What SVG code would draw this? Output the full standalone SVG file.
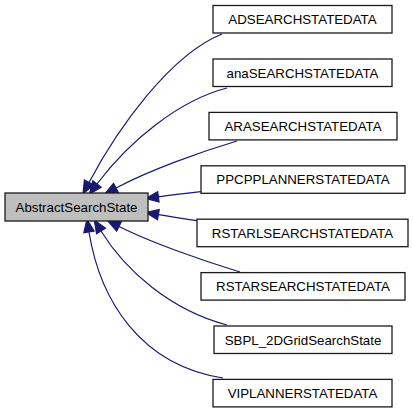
<svg xmlns="http://www.w3.org/2000/svg" width="413" height="413" viewBox="0 0 413 413">
<style>
  .box { fill: #ffffff; stroke: #1a1a1a; stroke-width: 1.3; }
  .root { fill: #bfbfbf; stroke: #1a1a1a; stroke-width: 1.3; }
  .lbl { font-family: "Liberation Sans", Arial, Helvetica, sans-serif; font-size: 13.3px; fill: #000; text-anchor: middle; }
  .edge { fill: none; stroke: #191970; stroke-width: 1.2; marker-end: url(#ah); }
</style>
<defs>
  <marker id="ah" markerUnits="userSpaceOnUse" markerWidth="14" markerHeight="12" refX="0" refY="4.5" orient="auto" viewBox="0 0 12 9" overflow="visible">
    <path d="M0,0 L11,4.5 L0,9 z" fill="#191970" stroke="#191970" stroke-width="1"/>
  </marker>
</defs>
<rect width="413" height="413" fill="#ffffff"/>
<g id="connectors">
  <path class="edge" d="M222,34 C170,55 118,128 89,182.5"/>
  <path class="edge" d="M227,88 C180,100 130,140 97,184"/>
  <path class="edge" d="M237,141 C200,152 150,170 116,188"/>
  <path class="edge" d="M201,191.7 C185,193.5 172,195 158.4,196.8"/>
  <path class="edge" d="M197,220.7 C182,218.5 170,216.5 158.4,214.6"/>
  <path class="edge" d="M240,272 C200,260 150,242 119,226.5"/>
  <path class="edge" d="M227,325 C170,310 125,270 101,231"/>
  <path class="edge" d="M223,378 C140,365 100,300 89,232"/>
</g>
<g id="AbstractSearchState">
  <rect class="root" x="5" y="193" width="143" height="28"/>
  <text class="lbl" x="76.5" y="211.8">AbstractSearchState</text>
</g>
<g id="ADSEARCHSTATEDATA">
  <rect class="box" x="213" y="5.5" width="179" height="27.5"/>
  <text class="lbl" x="302.5" y="24">ADSEARCHSTATEDATA</text>
</g>
<g id="anaSEARCHSTATEDATA">
  <rect class="box" x="213" y="59" width="179" height="27.5"/>
  <text class="lbl" x="302.5" y="77.5">anaSEARCHSTATEDATA</text>
</g>
<g id="ARASEARCHSTATEDATA">
  <rect class="box" x="209" y="112.4" width="188" height="27.5"/>
  <text class="lbl" x="303" y="130.9">ARASEARCHSTATEDATA</text>
</g>
<g id="PPCPPLANNERSTATEDATA">
  <rect class="box" x="201" y="165.8" width="204" height="27.5"/>
  <text class="lbl" x="303" y="184.3">PPCPPLANNERSTATEDATA</text>
</g>
<g id="RSTARLSEARCHSTATEDATA">
  <rect class="box" x="197" y="219.2" width="211" height="27.5"/>
  <text class="lbl" x="302.5" y="237.7">RSTARLSEARCHSTATEDATA</text>
</g>
<g id="RSTARSEARCHSTATEDATA">
  <rect class="box" x="201" y="272.6" width="204" height="27.5"/>
  <text class="lbl" x="303" y="291.1">RSTARSEARCHSTATEDATA</text>
</g>
<g id="SBPL_2DGridSearchState">
  <rect class="box" x="214" y="326" width="178" height="27.5"/>
  <text class="lbl" x="303" y="344.5">SBPL_2DGridSearchState</text>
</g>
<g id="VIPLANNERSTATEDATA">
  <rect class="box" x="213" y="379.4" width="179" height="27.5"/>
  <text class="lbl" x="302.5" y="397.9">VIPLANNERSTATEDATA</text>
</g>
</svg>
